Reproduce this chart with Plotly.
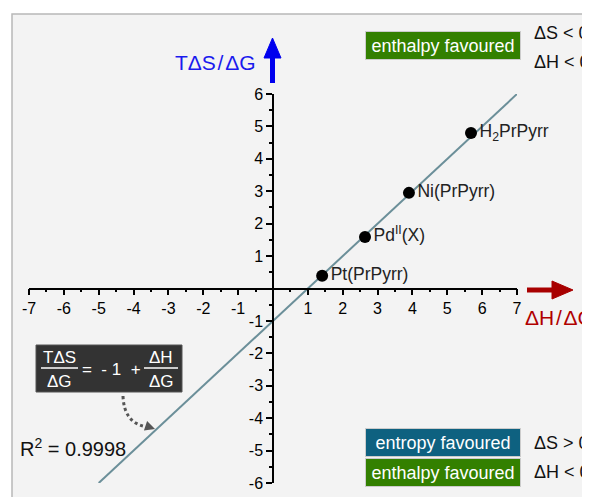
import plotly.graph_objects as go

# data
names = ["Pt(PrPyrr)", "Pd<sup>II</sup>(X)", "Ni(PrPyrr)", "H<sub>2</sub>PrPyrr"]
dh_dg = [1.41, 2.64, 3.90, 5.68]
tds_dg = [0.39, 1.59, 2.95, 4.80]

fit_x = [-5, 7]
fit_y = [-6, 6]

x_ticks = [-7, -6, -5, -4, -3, -2, -1, 1, 2, 3, 4, 5, 6, 7]
x_labels = ["-7", "-6", "-5", "-4", "-3", "-2", "-1", "1", "2", "3", "4", "5", "6", "7"]
y_ticks = [-6, -5, -4, -3, -2, -1, 1, 2, 3, 4, 5, 6]
y_labels = ["-6", "-5", "-4", "-3", "-2", "-1", "1", "2", "3", "4", "5", "6"]

# page body has an 8px margin; positions below are given in window pixels
OFF = 8
W, H = 590, 497
FONT = "Liberation Sans, Arial, sans-serif"


def px(x):
    return (x - OFF) / W


def py(y):
    return (H - (y - OFF)) / H


fig = go.Figure()

fig.add_trace(go.Scatter(x=fit_x, y=fit_y, mode="lines",
                         line=dict(color="#6b8f99", width=2),
                         hoverinfo="skip", showlegend=False))
fig.add_trace(go.Scatter(x=dh_dg, y=tds_dg, mode="markers+text",
                         text=names, textposition="middle right",
                         textfont=dict(size=17.5, color="#222", family=FONT),
                         marker=dict(size=12, color="black"),
                         cliponaxis=False, showlegend=False))

shapes = []
# grey panel
shapes.append(dict(type="rect", xref="paper", yref="paper", layer="below",
                   x0=px(12), x1=1, y0=0, y1=py(14),
                   fillcolor="#f3f3f3", line=dict(width=0)))
shapes.append(dict(type="path", xref="paper", yref="paper", layer="below",
                   path=f"M {px(12)} 0 L {px(12)} {py(14)} L 1 {py(14)}",
                   line=dict(color="#b8b8b8", width=1.5)))

# axis arrows
shapes.append(dict(type="line", xref="paper", yref="paper",
                   x0=px(272.5), x1=px(272.5), y0=py(83), y1=py(55),
                   line=dict(color="#0000ee", width=5)))
shapes.append(dict(type="path", xref="paper", yref="paper",
                   path=f"M {px(264)} {py(58)} L {px(272.5)} {py(38)} L {px(281)} {py(58)} Z",
                   fillcolor="#0000ee", line=dict(color="#0000ee", width=1)))
shapes.append(dict(type="line", xref="paper", yref="paper",
                   x0=px(527), x1=px(555), y0=py(290), y1=py(290),
                   line=dict(color="#a80000", width=5)))
shapes.append(dict(type="path", xref="paper", yref="paper",
                   path=f"M {px(552)} {py(281)} L {px(573)} {py(290)} L {px(552)} {py(299)} Z",
                   fillcolor="#a80000", line=dict(color="#a80000", width=1)))

# equation box
shapes.append(dict(type="rect", xref="paper", yref="paper",
                   x0=px(36), x1=px(182), y0=py(392), y1=py(345),
                   fillcolor="#333333", line=dict(color="#555555", width=1)))
shapes.append(dict(type="line", xref="paper", yref="paper",
                   x0=px(41), x1=px(78), y0=py(368), y1=py(368),
                   line=dict(color="white", width=1.5)))
shapes.append(dict(type="line", xref="paper", yref="paper",
                   x0=px(144), x1=px(178), y0=py(368), y1=py(368),
                   line=dict(color="white", width=1.5)))
# dotted curved pointer
shapes.append(dict(type="path", xref="paper", yref="paper",
                   path=f"M {px(123)} {py(396)} Q {px(124)} {py(424)} {px(148)} {py(427)}",
                   line=dict(color="#555555", width=3, dash="dot")))

annotations = []


def txt(s, x, y, size=16, color="black", xanchor="center", **kw):
    annotations.append(dict(text=s, x=px(x), y=py(y), xref="paper", yref="paper",
                            xanchor=xanchor, yanchor="middle", showarrow=False,
                            font=dict(size=size, color=color, family=FONT), **kw))


txt("TΔS\u200a/\u200aΔG", 258, 62, size=21, color="#1a1aee", xanchor="right")
txt("ΔH\u200a/\u200aΔG", 523, 317, size=21, color="#b00000", xanchor="left")

txt("TΔS", 59, 357, size=17, color="white")
txt("ΔG", 59, 381, size=17, color="white")
txt("=  - 1  +", 111, 369, size=17, color="white")
txt("ΔH", 161, 357, size=17, color="white")
txt("ΔG", 161, 381, size=17, color="white")

txt("R<sup>2</sup> = 0.9998", 18, 447, size=20, color="#111", xanchor="left")

# arrow head of dotted pointer
annotations.append(dict(x=px(155), y=py(429), xref="paper", yref="paper",
                        ax=-9, ay=-3, showarrow=True, arrowhead=2, arrowsize=1,
                        arrowwidth=2, arrowcolor="#555555", text=""))

GREEN = "#338000"
TEAL = "#0e6180"
box_kw = dict(width=152, height=25, borderpad=1, bordercolor="#cccccc", borderwidth=1)
txt("enthalpy favoured", 442.5, 45, size=18, color="white", bgcolor=GREEN, **box_kw)
txt("entropy favoured", 443, 442.5, size=18, color="white", bgcolor=TEAL, **box_kw)
txt("enthalpy favoured", 442.5, 472, size=18, color="white", bgcolor=GREEN, **box_kw)

txt("ΔS < 0", 532, 33, size=18, color="#111", xanchor="left")
txt("ΔH < 0", 532, 62, size=18, color="#111", xanchor="left")
txt("ΔS > 0", 532, 443, size=18, color="#111", xanchor="left")
txt("ΔH < 0", 532, 472, size=18, color="#111", xanchor="left")

axis_common = dict(showgrid=False, zeroline=False, showline=True, linecolor="black",
                   linewidth=1.5, ticks="outside", ticklen=6, tickwidth=1.5,
                   tickcolor="black", tickfont=dict(size=16, color="black", family=FONT),
                   anchor="free", automargin=False, fixedrange=True,
                   minor=dict(ticks="outside", ticklen=3, tickwidth=1.5,
                              tickcolor="black", dtick=0.5, tick0=0))

fig.update_layout(
    width=W, height=H,
    margin=dict(l=0, r=0, t=0, b=0),
    paper_bgcolor="white",
    plot_bgcolor="rgba(0,0,0,0)",
    xaxis=dict(range=[-7, 7], domain=[px(29), px(517)], tickvals=x_ticks,
               ticktext=x_labels, position=py(288.5), **axis_common),
    yaxis=dict(range=[-6, 6], domain=[py(483), py(94)], tickvals=y_ticks,
               ticktext=y_labels, position=px(273), **axis_common),
    shapes=shapes,
    annotations=annotations,
    showlegend=False,
)

fig.write_html("out.html", config={"displayModeBar": False})
